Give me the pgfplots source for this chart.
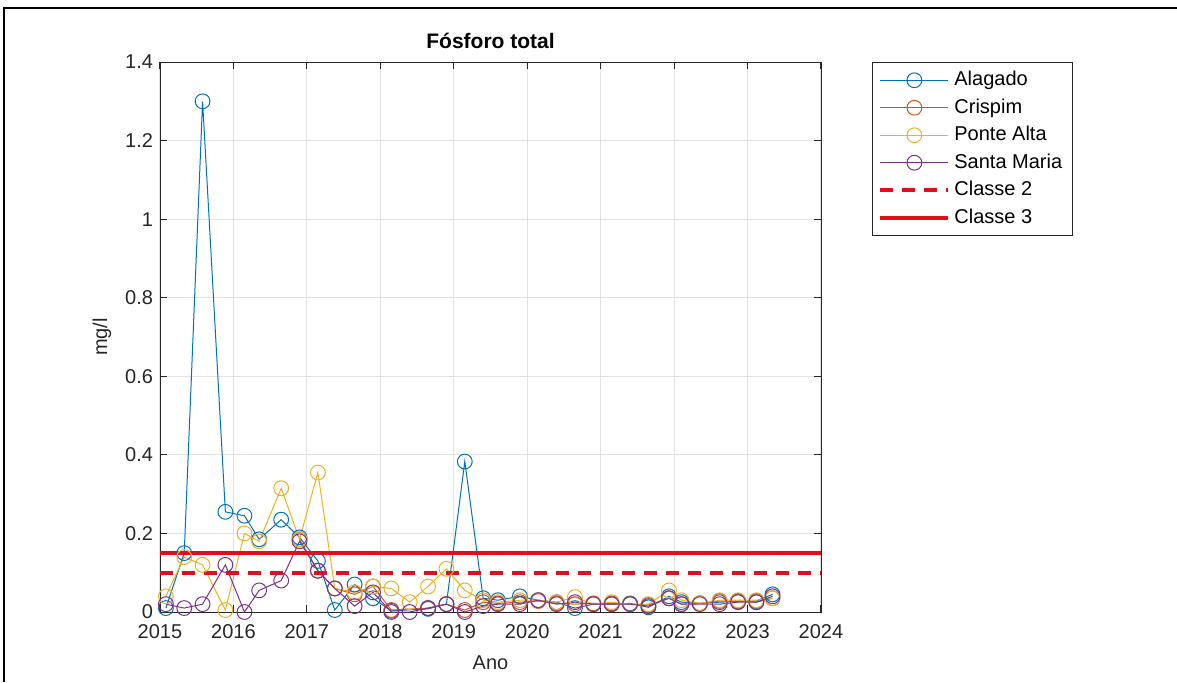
\documentclass[border=0pt]{standalone}
\usepackage{fontspec}
\setmainfont{Liberation Sans}
\usepackage{pgfplots}
\pgfplotsset{compat=1.18}
\definecolor{mblue}{rgb}{0,0.447,0.741}
\definecolor{morange}{rgb}{0.85,0.325,0.098}
\definecolor{myellow}{rgb}{0.929,0.694,0.125}
\definecolor{mpurple}{rgb}{0.494,0.184,0.556}
\definecolor{mred}{rgb}{0.9,0.05,0.1}
\definecolor{axgray}{rgb}{0.15,0.15,0.15}
\begin{document}
\begin{tikzpicture}[x=1pt,y=1pt]
\useasboundingbox (0,0) rectangle (588.5,341);
\draw[line width=1.1pt,black] (2,0) -- (2,337) -- (588.5,337);
\begin{axis}[
  at={(80pt,35pt)}, anchor=south west,
  scale only axis, width=330.5pt, height=275pt,
  xmin=2015, xmax=2024, ymin=0, ymax=1.4,
  xtick distance=1, ytick distance=0.2,
  /pgf/number format/1000 sep={},
  /pgf/number format/assume math mode=true,
  tick label style={font=\fontsize{10}{12}\selectfont, text=axgray},
  xticklabel style={yshift=-2.5pt},
  label style={font=\fontsize{10}{12}\selectfont, text=axgray},
  xlabel={Ano}, ylabel={mg/l},
  xlabel style={yshift=-2pt},
  title={\textbf{Fósforo total}},
  title style={font=\fontsize{10.5}{12}\selectfont, yshift=-3pt},
  grid=major, major grid style={draw=gray!22, line width=0.5pt},
  axis line style={draw=axgray, line width=0.5pt},
  tick style={draw=axgray, line width=0.5pt},
  tick align=inside, major tick length=3.5pt,
  every axis plot/.append style={line width=0.5pt},
  mark options={solid, line width=0.5pt},
  legend style={at={(1.077,1)}, anchor=north west, draw=axgray, line width=0.5pt,
     font=\fontsize{10}{12}\selectfont, row sep=1pt, inner xsep=3pt, inner ysep=2.5pt},
  legend cell align=left,
  legend image code/.code={\draw[mark repeat=2,mark phase=2] plot coordinates {(0pt,0pt) (17pt,0pt) (34pt,0pt)};},
]
% Alagado
\addplot[color=mblue, mark=o, mark size=3.7pt] coordinates {
(2015.08,0.010) (2015.33,0.150) (2015.58,1.300) (2015.89,0.255) (2016.15,0.245)
(2016.35,0.185) (2016.65,0.235) (2016.90,0.190) (2017.15,0.130) (2017.38,0.005)
(2017.65,0.070) (2017.90,0.035) (2018.15,0.003) (2018.65,0.008) (2018.90,0.020)
(2019.15,0.383) (2019.40,0.035) (2019.60,0.030) (2019.90,0.040) (2020.15,0.030)
(2020.40,0.025) (2020.65,0.010) (2020.90,0.020) (2021.15,0.020) (2021.40,0.022)
(2021.65,0.012) (2021.93,0.040) (2022.10,0.025) (2022.35,0.022) (2022.62,0.025)
(2022.87,0.027) (2023.12,0.028) (2023.34,0.045)};
\addlegendentry{Alagado}
% Crispim
\addplot[color=morange, mark=o, mark size=3.7pt] coordinates {
(2016.90,0.185) (2017.15,0.105) (2017.38,0.060) (2017.65,0.045) (2017.90,0.065)
(2018.15,0.005) (2018.65,0.010) (2018.90,0.020) (2019.15,0.005) (2019.40,0.025)
(2019.60,0.022) (2019.90,0.025) (2020.15,0.028) (2020.40,0.022) (2020.65,0.020)
(2020.90,0.022) (2021.15,0.022) (2021.40,0.020) (2021.65,0.018) (2021.93,0.035)
(2022.10,0.020) (2022.35,0.022) (2022.62,0.028) (2022.87,0.028) (2023.12,0.025)
(2023.34,0.035)};
\addlegendentry{Crispim}
% Ponte Alta
\addplot[color=myellow, mark=o, mark size=3.7pt] coordinates {
(2015.08,0.040) (2015.33,0.140) (2015.58,0.120) (2015.89,0.005) (2016.15,0.200)
(2016.35,0.180) (2016.65,0.315) (2016.90,0.185) (2017.15,0.355) (2017.38,0.060)
(2017.65,0.050) (2017.90,0.065) (2018.15,0.060) (2018.40,0.025) (2018.65,0.065)
(2018.90,0.110) (2019.15,0.055) (2019.40,0.030) (2019.60,0.025) (2019.90,0.030)
(2020.15,0.030) (2020.40,0.025) (2020.65,0.038) (2020.90,0.020) (2021.15,0.025)
(2021.40,0.020) (2021.65,0.020) (2021.93,0.055) (2022.10,0.030) (2022.35,0.022)
(2022.62,0.030) (2022.87,0.030) (2023.12,0.030) (2023.34,0.035)};
\addlegendentry{Ponte Alta}
% Santa Maria
\addplot[color=mpurple, mark=o, mark size=3.7pt] coordinates {
(2015.08,0.020) (2015.33,0.010) (2015.58,0.020) (2015.89,0.120) (2016.15,0.000)
(2016.35,0.055) (2016.65,0.080) (2016.90,0.180) (2017.15,0.105) (2017.38,0.060)
(2017.65,0.015) (2017.90,0.050) (2018.15,0.000) (2018.40,0.000) (2018.65,0.010)
(2018.90,0.020) (2019.15,0.000) (2019.40,0.015) (2019.60,0.020) (2019.90,0.020)
(2020.15,0.030) (2020.40,0.020) (2020.65,0.025) (2020.90,0.020) (2021.15,0.020)
(2021.40,0.020) (2021.65,0.015) (2021.93,0.035) (2022.10,0.020) (2022.35,0.020)
(2022.62,0.020) (2022.87,0.025) (2023.12,0.025) (2023.34,0.040)};
\addlegendentry{Santa Maria}
% Classe 2
\addplot[color=mred, line width=2pt, dash pattern=on 6.5pt off 4.5pt] coordinates {(2015,0.1) (2024,0.1)};
\addlegendentry{Classe 2}
% Classe 3
\addplot[color=mred, line width=2pt] coordinates {(2015,0.15) (2024,0.15)};
\addlegendentry{Classe 3}
\end{axis}
\end{tikzpicture}
\end{document}
